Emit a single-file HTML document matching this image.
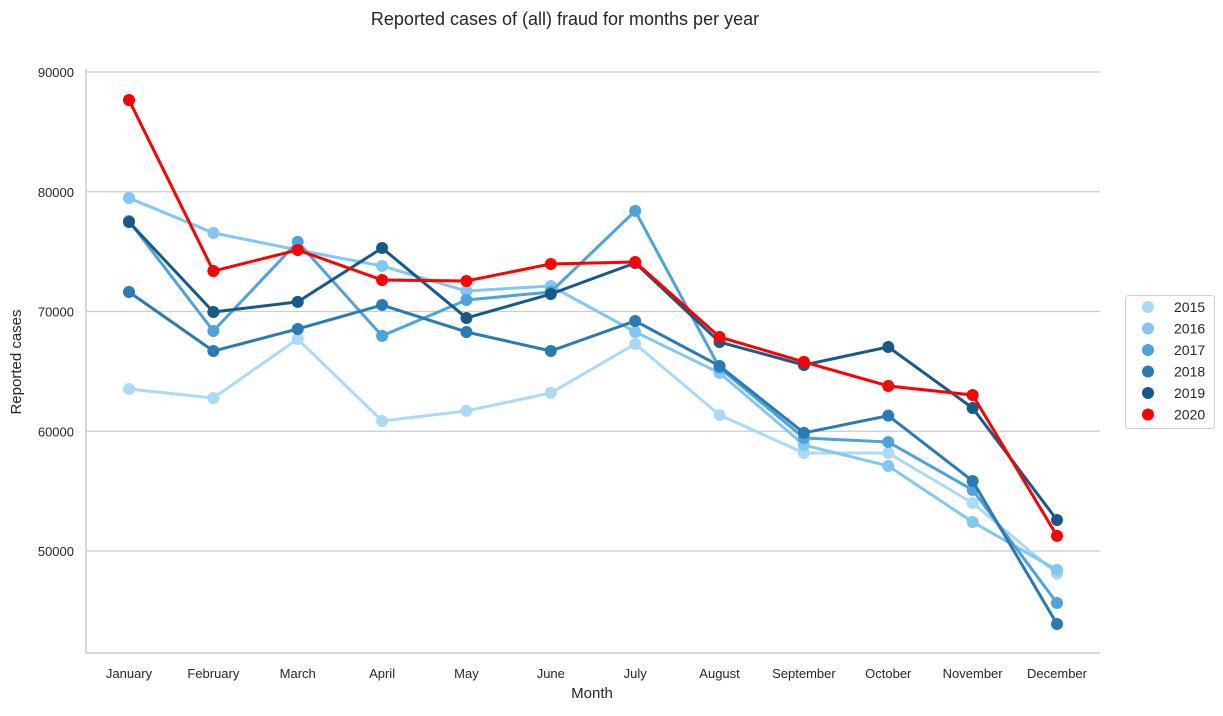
<!DOCTYPE html>
<html><head><meta charset="utf-8"><style>
body{margin:0;background:#fff;font-family:"Liberation Sans",Arial,sans-serif;}
svg text{font-family:"Liberation Sans",Arial,sans-serif;fill:#262626;}
</style></head><body>
<svg id="chart" width="1223" height="711">
<text x="565" y="25" font-size="18" text-anchor="middle">Reported cases of (all) fraud for months per year</text>
<g id="grid"></g><g id="series"></g><g id="axes"></g>
<text x="592" y="698" font-size="15" text-anchor="middle">Month</text>
<text x="21" y="362" font-size="15" text-anchor="middle" transform="rotate(-90 21 362)">Reported cases</text>
<g id="legend"></g>
</svg>
<script>
const months=["January","February","March","April","May","June","July","August","September","October","November","December"];
const years=["2015","2016","2017","2018","2019","2020"];
const colors=["#abdaf6","#82c7f3","#4da3db","#2a7ab6","#165a8a","#ff0000"];
const s2015=[63530,62780,67700,60860,61700,63200,67290,61360,58180,58180,54010,48100];
const s2016=[79480,76560,75140,73800,71710,72130,68290,64870,58850,57100,52420,48420];
const s2017=[77560,68370,75810,67960,70960,71630,78400,65300,59440,59100,55100,45660];
const s2018=[71630,66700,68540,70540,68290,66700,69210,65450,59860,61300,55850,43900];
const s2019=[77470,69960,70800,75300,69460,71460,74050,67450,65530,67040,61940,52590];
const s2020=[87660,73380,75140,72630,72550,73970,74130,67870,65790,63780,63030,51260];
const yTicks=[50000,60000,70000,80000,90000];
const series=[s2015,s2016,s2017,s2018,s2019,s2020];
const NS="http://www.w3.org/2000/svg";
const X=i=>129+i*(1057-129)/11;
const Y=v=>72+(90000-v)*479/40000;
function mk(t,a,p){const e=document.createElementNS(NS,t);for(const k in a)e.setAttribute(k,a[k]);p.appendChild(e);return e;}
const grid=document.getElementById('grid'),axes=document.getElementById('axes'),ser=document.getElementById('series'),leg=document.getElementById('legend');
yTicks.forEach(v=>{
 const l=mk('line',{x1:86,x2:1100,y1:Y(v),y2:Y(v),stroke:'#cccccc','stroke-width':1.2},grid);
 
 
 const t=mk('text',{x:74,y:Y(v)+5,'font-size':13,'text-anchor':'end'},axes);t.textContent=v;
 
 
});
const ya=mk('line',{x1:86,x2:86,y1:69,y2:653,stroke:'#cccccc','stroke-width':1.5},axes);


const xa=mk('line',{x1:86,x2:1100,y1:653,y2:653,stroke:'#cccccc','stroke-width':1.5},axes);


months.forEach((m,i)=>{
 const t=mk('text',{x:X(i),y:678,'font-size':13,'text-anchor':'middle'},axes);t.textContent=m;
 
 
});
series.forEach((s,k)=>{
 const g=mk('g',{},ser);
 
 
 const pl=mk('polyline',{points:s.map((v,i)=>X(i)+','+Y(v)).join(' '),fill:'none',stroke:colors[k],'stroke-width':3,'stroke-linejoin':'round'},g);
 
 
 s.forEach((v,i)=>{
  const c=mk('circle',{cx:X(i),cy:Y(v),r:6,fill:colors[k]},g);
  
  
 });
});
const box=mk('rect',{x:1125.5,y:295.5,width:89,height:133,rx:3,fill:'#fff',stroke:'#d0d0d0'},leg);


years.forEach((y,k)=>{
 const g=mk('g',{},leg);
 
 
 mk('circle',{cx:1148,cy:307+k*21.5,r:6,fill:colors[k]},g);
 const t=mk('text',{x:1174,y:312+k*21.5,'font-size':14},g);t.textContent=y;
});
</script>
</body></html>
